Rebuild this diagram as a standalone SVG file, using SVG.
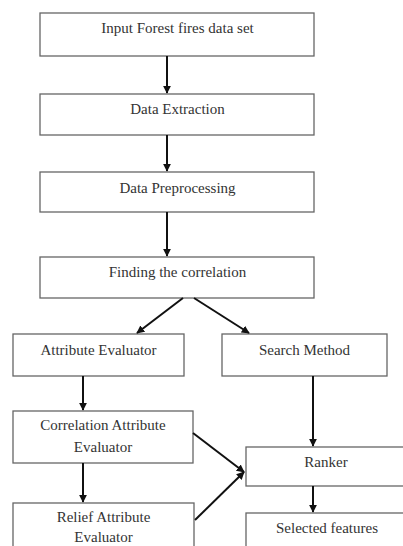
<svg xmlns="http://www.w3.org/2000/svg" width="403" height="546" viewBox="0 0 403 546">
<defs>
<marker id="ah" viewBox="0 0 10 10" refX="9" refY="5" markerWidth="4" markerHeight="4" orient="auto" markerUnits="strokeWidth">
<path d="M0,0 L10,5 L0,10 z" fill="#111"/>
</marker>
<style>
.box{fill:#fff;stroke:#666;stroke-width:1.3}
.t{font-family:"Liberation Serif","Times New Roman",serif;font-size:15px;fill:#333;text-anchor:middle}
.c{stroke:#111;stroke-width:2;fill:none;marker-end:url(#ah)}
</style>
</defs>
<rect width="403" height="546" fill="#fff"/>
<g id="input"><rect class="box" x="40" y="13" width="274" height="43"/><text class="t" x="177.5" y="33">Input Forest fires data set</text></g>
<g id="extraction"><rect class="box" x="40" y="94" width="274" height="41"/><text class="t" x="177.5" y="114">Data Extraction</text></g>
<g id="preprocessing"><rect class="box" x="40" y="172" width="274" height="40"/><text class="t" x="177.5" y="193">Data Preprocessing</text></g>
<g id="correlation"><rect class="box" x="40" y="257" width="274" height="41"/><text class="t" x="177.5" y="277">Finding the correlation</text></g>
<g id="attr-eval"><rect class="box" x="13" y="334" width="171" height="42"/><text class="t" x="98.5" y="355">Attribute Evaluator</text></g>
<g id="search"><rect class="box" x="222" y="334" width="165" height="42"/><text class="t" x="304.5" y="355">Search Method</text></g>
<g id="corr-attr"><rect class="box" x="13" y="411" width="180" height="52"/><text class="t" x="103" y="430">Correlation Attribute</text><text class="t" x="103" y="452">Evaluator</text></g>
<g id="relief"><rect class="box" x="13" y="503" width="181" height="60"/><text class="t" x="103.5" y="522">Relief Attribute</text><text class="t" x="103.5" y="542">Evaluator</text></g>
<g id="ranker"><rect class="box" x="246" y="447" width="170" height="39"/><text class="t" x="326" y="467">Ranker</text></g>
<g id="selected"><rect class="box" x="246" y="513" width="170" height="50"/><text class="t" x="327" y="533">Selected features</text></g>
<g id="connectors">
<line class="c" x1="167" y1="56" x2="167" y2="93"/>
<line class="c" x1="167" y1="135" x2="167" y2="171"/>
<line class="c" x1="167" y1="212" x2="167" y2="256"/>
<line class="c" x1="183" y1="298" x2="137" y2="333"/>
<line class="c" x1="194" y1="298" x2="249" y2="333"/>
<line class="c" x1="83" y1="376" x2="83" y2="410"/>
<line class="c" x1="313" y1="376" x2="313" y2="446"/>
<line class="c" x1="83" y1="463" x2="83" y2="502"/>
<line class="c" x1="193" y1="433" x2="244" y2="472"/>
<line class="c" x1="195" y1="520" x2="244" y2="472"/>
<line class="c" x1="313" y1="486" x2="313" y2="512"/>
</g>
</svg>
